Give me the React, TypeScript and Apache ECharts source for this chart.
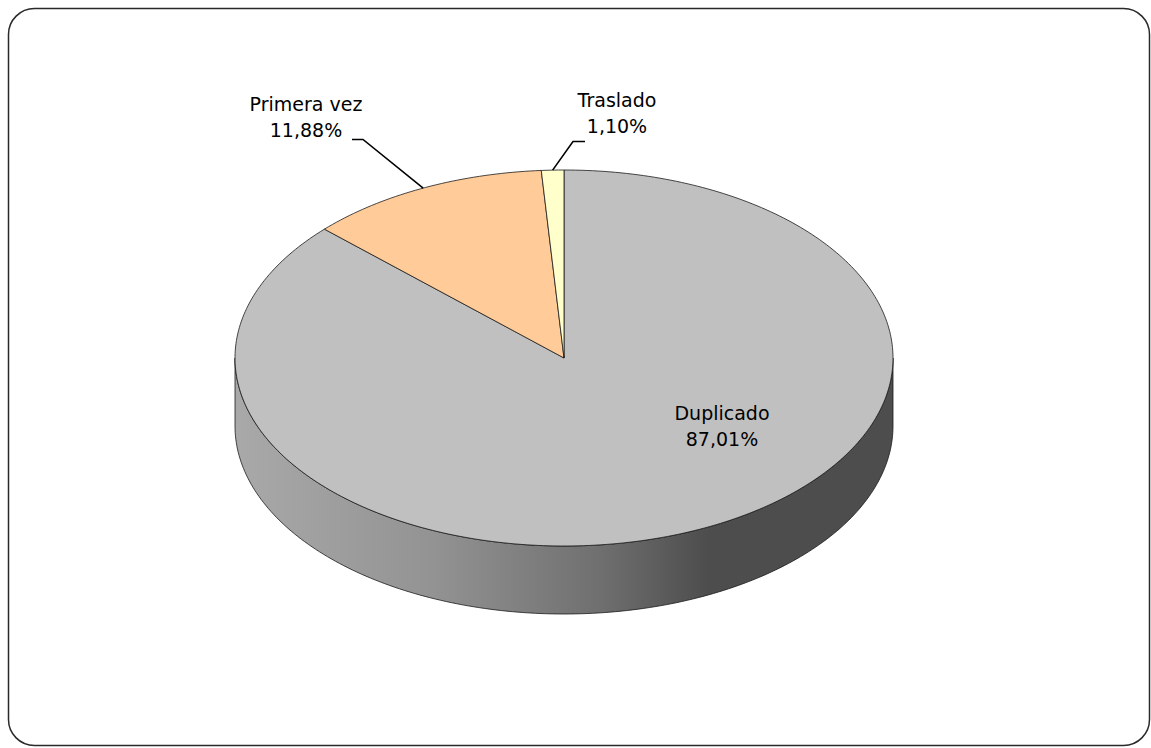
import React, { useEffect, useRef } from "react";
import * as echarts from "echarts";

const names = ["Duplicado", "Primera vez", "Traslado"];
const values = [87.01, 11.88, 1.1];
const topColors = ["#c0c0c0", "#ffcc99", "#ffffcc"];

// geometry of the projected 3D pie
const CX = 564;
const CY = 358;
const RX = 329;
const RY = 188;
const DEPTH = 68;

const labelLayout: Record<string, any> = {
  Duplicado: { x: 722, y: 426 },
  "Primera vez": { x: 306, y: 117, start: [352, 139.5], elbow: [363, 139.5] },
  Traslado: { x: 617, y: 113, start: [585, 141.5], elbow: [573, 141.5] },
};

const fmt = (v: number) => v.toFixed(2).replace(".", ",") + "%";

function pt(theta: number, dy = 0): number[] {
  return [CX + RX * Math.sin(theta), CY - RY * Math.cos(theta) + dy];
}

function arcPts(a0: number, a1: number, dy = 0): number[][] {
  const n = Math.max(2, Math.ceil(((a1 - a0) / (Math.PI * 2)) * 360));
  const out: number[][] = [];
  for (let i = 0; i <= n; i++) out.push(pt(a0 + ((a1 - a0) * i) / n, dy));
  return out;
}

export default function App() {
  const ref = useRef<HTMLDivElement>(null);
  useEffect(() => {
    if (!ref.current) return;
    const chart = echarts.init(ref.current, null, { renderer: "svg" });
    const total = values.reduce((a, b) => a + b, 0);
    const font = "DejaVu Sans";

    const renderItem = (params: any, api: any) => {
      const idx = params.dataIndex;
      let before = 0;
      for (let i = 0; i < idx; i++) before += values[i];
      const v = api.value(0);
      const a0 = (before / total) * Math.PI * 2;
      const a1 = ((before + v) / total) * Math.PI * 2;
      const children: any[] = [];

      // side wall (front half: PI/2 .. 3PI/2)
      const s0 = Math.max(a0, Math.PI / 2);
      const s1 = Math.min(a1, (Math.PI * 3) / 2);
      if (s1 > s0) {
        const top = arcPts(s0, s1, 0);
        const bot = arcPts(s0, s1, DEPTH).reverse();
        children.push({
          type: "polygon",
          shape: { points: top.concat(bot) },
          style: {
            fill: {
              type: "linear",
              x: CX - RX,
              y: 0,
              x2: CX + RX,
              y2: 0,
              global: true,
              colorStops: [
                { offset: 0, color: "#a9a9a9" },
                { offset: 0.3, color: "#939393" },
                { offset: 0.55, color: "#707070" },
                { offset: 0.72, color: "#4d4d4d" },
                { offset: 1, color: "#4d4d4d" },
              ],
            },
            stroke: "#1a1a1a",
            lineWidth: 0.8,
          },
        });
      }

      // top face
      children.push({
        type: "polygon",
        shape: { points: [[CX, CY]].concat(arcPts(a0, a1, 0)) },
        style: { fill: topColors[idx], stroke: "#1a1a1a", lineWidth: 0.8 },
      });

      const name = names[idx];
      const lay = labelLayout[name];
      if (lay) {
        if (lay.elbow) {
          const mid = (a0 + a1) / 2;
          children.push({
            type: "polyline",
            shape: { points: [lay.start, lay.elbow, pt(mid)] },
            style: { stroke: "#000", lineWidth: 1.6, fill: null },
          });
        }
        children.push({
          type: "text",
          style: {
            text: name + "\n" + fmt(v),
            x: lay.x,
            y: lay.y,
            align: "center",
            verticalAlign: "middle",
            fontFamily: font,
            fontSize: 19,
            lineHeight: 26,
            fill: "#000",
          },
        });
      }
      return { type: "group", children };
    };

    chart.setOption({
      animation: false,
      backgroundColor: "#ffffff",
      graphic: [
        {
          type: "rect",
          shape: { x: 8.5, y: 8.5, width: 1141, height: 737, r: 26 },
          style: { fill: "none", stroke: "#2a2a2a", lineWidth: 1.5 },
          z: 10,
        },
      ],
      series: [
        {
          type: "custom",
          coordinateSystem: "none",
          renderItem,
          data: names.map((n, i) => ({ name: n, value: [values[i]] })),
        },
      ],
    });
    return () => chart.dispose();
  }, []);
  return (
    <div
      ref={ref}
      style={{ position: "fixed", left: 0, top: 0, width: 1151, height: 748 }}
    />
  );
}
